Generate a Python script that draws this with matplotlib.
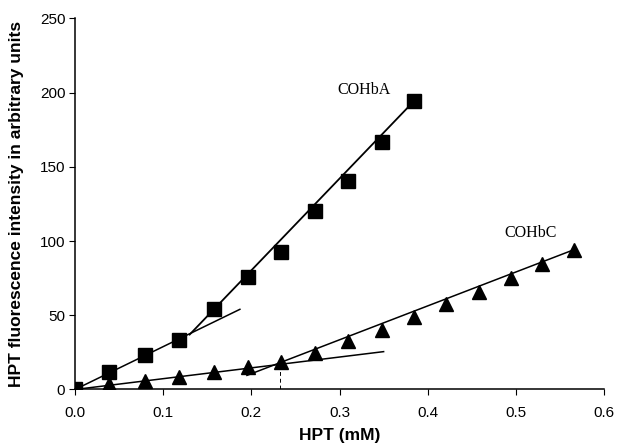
import matplotlib
matplotlib.use('Agg')
import matplotlib.pyplot as plt

# readings
hpt_a = [0, 0.039, 0.079, 0.118, 0.158, 0.196, 0.234, 0.272, 0.310, 0.348, 0.385]
cohba = [0, 11.8, 23.2, 33.4, 54.2, 75.6, 92.9, 120.3, 140.5, 167.0, 194.6]
hpt_c = [0, 0.039, 0.079, 0.118, 0.158, 0.196, 0.234, 0.272, 0.310, 0.348,
         0.385, 0.421, 0.458, 0.494, 0.530, 0.566]
cohbc = [0, 3.7, 5.9, 8.6, 11.6, 15.3, 18.5, 24.4, 32.7, 40.3,
         48.6, 57.4, 65.7, 75.3, 84.6, 94.2]

# straight segments drawn over the points (x ends, y ends)
fit_a1_x, fit_a1_y = [0, 0.187], [0, 54]
fit_a2_x, fit_a2_y = [0.13, 0.385], [37, 194.6]
fit_c1_x, fit_c1_y = [0, 0.35], [0, 25.5]
fit_c2_x, fit_c2_y = [0.195, 0.566], [9.5, 94.2]
cross_x, cross_y = [0.233, 0.233], [0, 17]

xticks = [0.0, 0.1, 0.2, 0.3, 0.4, 0.5, 0.6]
yticks = [0, 50, 100, 150, 200, 250]

fig = plt.figure(figsize=(6.17, 4.48), dpi=100)
ax = fig.add_axes([0.1216, 0.1306, 0.8574, 0.8285])

ax.plot(fit_a1_x, fit_a1_y, color='black', lw=1.1)
ax.plot(fit_a2_x, fit_a2_y, color='black', lw=1.3)
ax.plot(fit_c1_x, fit_c1_y, color='black', lw=1.1)
ax.plot(fit_c2_x, fit_c2_y, color='black', lw=1.1)
ax.plot(cross_x, cross_y, color='black', lw=0.7, ls=(0, (4, 3)))

ax.plot(hpt_c, cohbc, ls='none', marker='^', ms=10, color='black', zorder=3)
ax.plot(hpt_a, cohba, ls='none', marker='s', ms=9.5, color='black', zorder=4)

ax.text(0.298, 202, 'COHbA', family='Liberation Serif', fontsize=11.5, va='center')
ax.text(0.4875, 105.5, 'COHbC', family='Liberation Serif', fontsize=11.5, va='center')

ax.set_xlim(0, 0.6)
ax.set_ylim(0, 250)
ax.set_xticks(xticks)
ax.set_xticklabels(['%.1f' % t for t in xticks])
ax.set_yticks(yticks)

for s in ['top', 'right']:
    ax.spines[s].set_visible(False)
for s in ['left', 'bottom']:
    ax.spines[s].set_linewidth(1.1)
ax.tick_params(axis='x', length=4, width=0.8, pad=8, labelsize=11)
ax.tick_params(axis='y', length=4, width=0.8, pad=3, labelsize=11)
for lab in ax.get_xticklabels() + ax.get_yticklabels():
    lab.set_family('Liberation Sans')

ax.set_xlabel('HPT (mM)', family='Liberation Sans', fontweight='bold', fontsize=12.5)
ax.set_ylabel('HPT fluorescence intensity in arbitrary units',
              family='Liberation Sans', fontweight='bold', fontsize=12.5)
ax.xaxis.set_label_coords(0.5, -0.105)
ax.yaxis.set_label_coords(-0.096, 0.5)

fig.savefig('out.png', dpi=100)
